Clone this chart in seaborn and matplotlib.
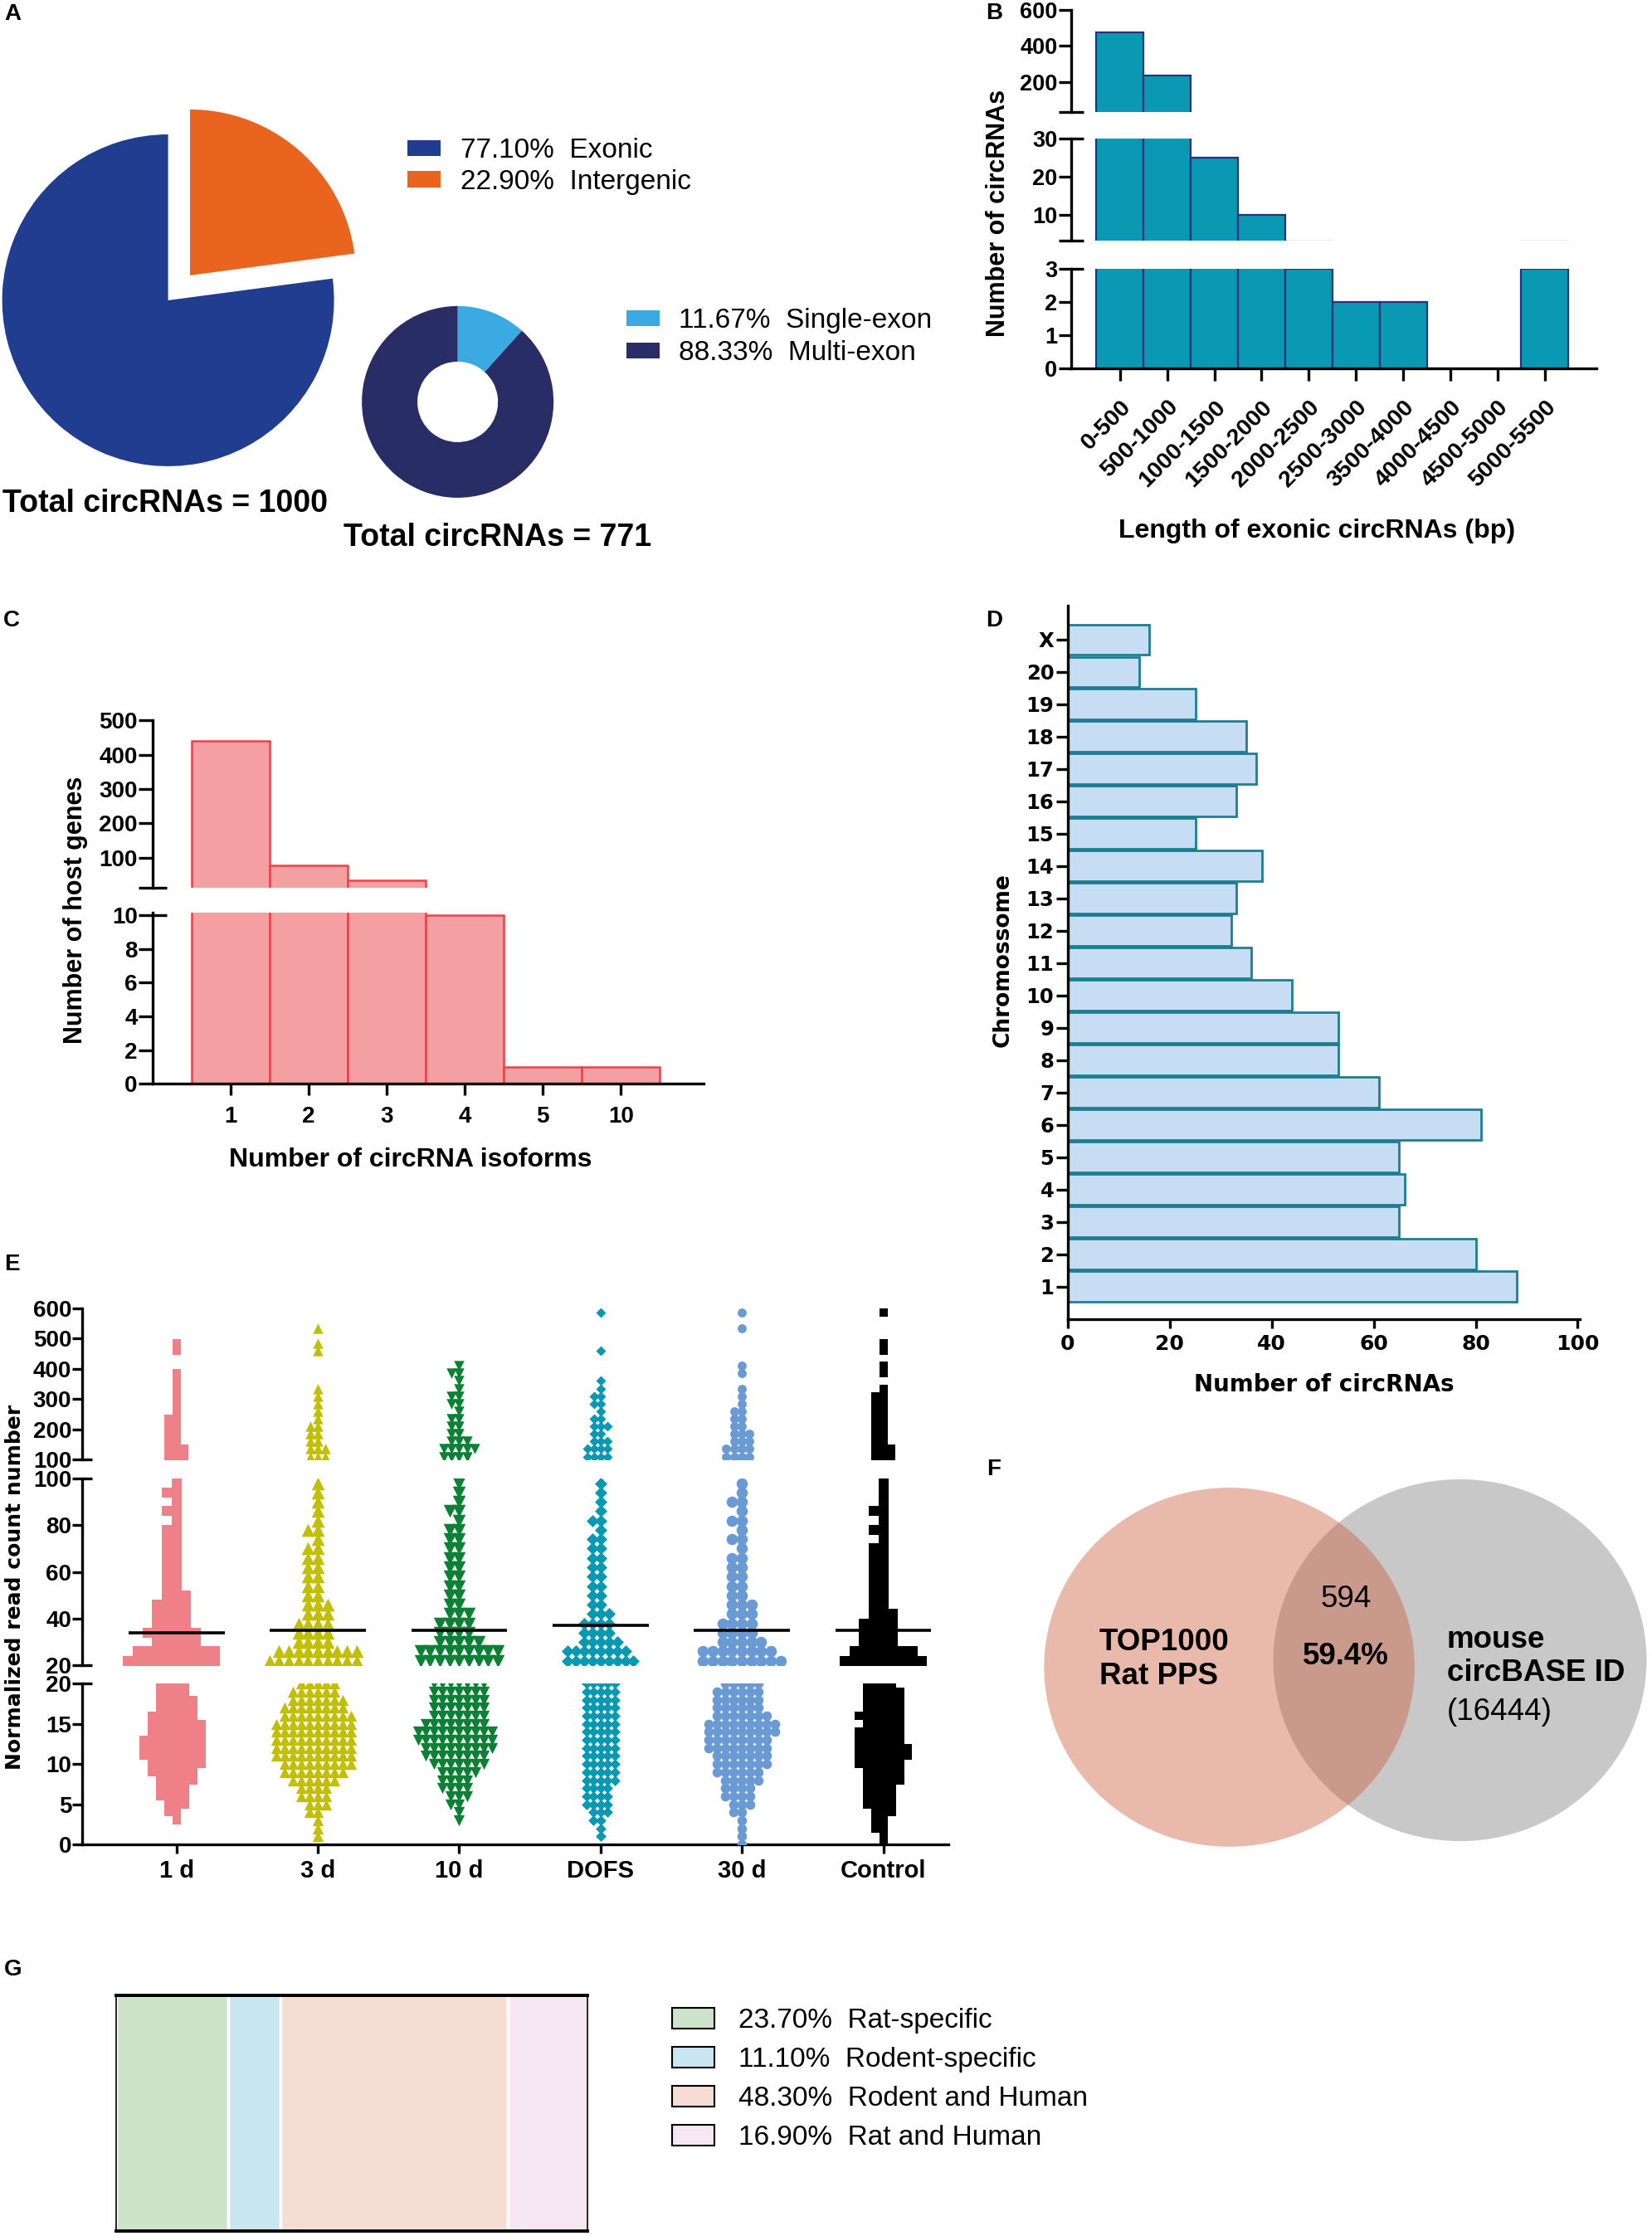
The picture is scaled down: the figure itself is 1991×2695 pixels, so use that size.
import numpy as np
import matplotlib
matplotlib.use('Agg')
import matplotlib.pyplot as plt
import matplotlib.patches as mpatches
import seaborn as sns

# ---------------- data ----------------
# A: genomic origin of the top circRNAs and exon composition
region_labels = ['Exonic', 'Intergenic']
region_pct = [77.10, 22.90]
exon_labels = ['Single-exon', 'Multi-exon']
exon_pct = [11.67, 88.33]
total_all = 1000
total_exonic = 771

# B: length of exonic circRNAs
length_bins = ['0-500', '500-1000', '1000-1500', '1500-2000', '2000-2500',
               '2500-3000', '3500-4000', '4000-4500', '4500-5000', '5000-5500']
length_counts = [476, 237, 25, 10, 3, 2, 2, 0, 0, 3]

# C: circRNA isoforms per host gene
isoform_bins = ['1', '2', '3', '4', '5', '10']
host_gene_counts = [440, 79, 34, 10, 1, 1]

# D: circRNAs per chromosome (top to bottom)
chromosomes = ['X', '20', '19', '18', '17', '16', '15', '14', '13', '12', '11',
               '10', '9', '8', '7', '6', '5', '4', '3', '2', '1']
chrom_counts = [16, 14, 25, 35, 37, 33, 25, 38, 33, 32, 36,
                44, 53, 53, 61, 81, 65, 66, 65, 80, 88]

# E: normalized read counts, given as value levels and the number of circRNAs at each level
groups = ['1 d', '3 d', '10 d', 'DOFS', '30 d', 'Control']
group_medians = [34, 35, 35, 37, 35, 35]
low_levels = list(range(0, 21))
mid_levels = list(range(22, 100, 4))
high_levels = list(range(110, 601, 25))

low_1d = [0, 0, 0, 1, 2, 3, 4, 4, 5, 6, 7, 8, 8, 8, 7, 7, 6, 5, 5, 4, 4]
mid_1d = [10, 9, 5, 6, 4, 4, 4, 3, 2, 2, 2, 2, 2, 2, 2, 1, 2, 1, 2, 1]
high_1d = [3, 3, 2, 2, 2, 2, 1, 1, 1, 1, 1, 1, 0, 0, 1, 1, 0, 0, 0, 0]

low_3d = [0, 1, 1, 1, 2, 3, 4, 4, 6, 8, 9, 10, 10, 10, 10, 10, 9, 8, 7, 6, 5]
mid_3d = [10, 9, 4, 4, 4, 3, 3, 2, 2, 2, 2, 2, 2, 1, 2, 1, 1, 1, 1, 1]
high_3d = [3, 3, 2, 2, 2, 1, 1, 1, 1, 1, 0, 0, 0, 0, 1, 1, 0, 1, 0, 0]

low_10d = [0, 0, 0, 1, 1, 2, 3, 4, 4, 5, 7, 8, 9, 10, 10, 8, 7, 7, 7, 7, 7]
mid_10d = [9, 9, 5, 4, 4, 3, 2, 2, 2, 2, 2, 2, 2, 2, 2, 1, 2, 1, 1, 1]
high_10d = [4, 5, 3, 2, 2, 2, 1, 2, 2, 1, 1, 2, 1, 0, 0, 0, 0, 0, 0, 0]

low_dofs = [0, 1, 1, 2, 3, 4, 4, 4, 5, 5, 5, 5, 5, 5, 5, 5, 5, 5, 5, 5, 5]
mid_dofs = [9, 8, 5, 4, 4, 3, 2, 2, 2, 2, 2, 2, 2, 2, 1, 2, 1, 1, 1, 1]
high_dofs = [4, 4, 3, 2, 3, 2, 1, 2, 2, 1, 1, 0, 0, 0, 1, 0, 0, 0, 0, 1]

low_30d = [1, 1, 1, 1, 2, 3, 4, 4, 5, 6, 7, 7, 8, 8, 9, 9, 7, 6, 6, 6, 5]
mid_30d = [9, 8, 5, 4, 4, 3, 3, 2, 2, 2, 2, 2, 1, 2, 1, 2, 1, 2, 1, 1]
high_30d = [4, 4, 3, 3, 2, 2, 2, 1, 1, 1, 0, 1, 1, 0, 0, 0, 0, 1, 0, 1]

low_ctrl = [1, 1, 2, 2, 3, 4, 4, 4, 5, 5, 6, 7, 7, 6, 6, 5, 6, 5, 5, 5, 4]
mid_ctrl = [9, 7, 4, 4, 4, 3, 2, 2, 2, 2, 2, 2, 2, 1, 2, 1, 2, 1, 1, 1]
high_ctrl = [3, 3, 2, 2, 2, 2, 2, 2, 2, 1, 0, 1, 1, 0, 1, 1, 0, 0, 0, 1]

# F: overlap with mouse circBASE
top_n = 1000
overlap_n = 594
mouse_total = 16444

# G: conservation classes
cons_labels = ['Rat-specific', 'Rodent-specific', 'Rodent and Human', 'Rat and Human']
cons_pct = [23.70, 11.10, 48.30, 16.90]

# ---------------- style ----------------
sns.set_theme(style='ticks')
plt.rcParams['font.family'] = ['Liberation Sans', 'DejaVu Sans']
plt.rcParams['font.weight'] = 'bold'
plt.rcParams['axes.edgecolor'] = 'black'
plt.rcParams['xtick.color'] = 'black'
plt.rcParams['ytick.color'] = 'black'
plt.rcParams['text.color'] = 'black'
plt.rcParams['axes.linewidth'] = 2.4

W, H = 1155, 1563.4   # layout grid (reference pixels / 1.724)
fig = plt.figure(figsize=(19.91, 26.95), dpi=100)


def add_ax(x0, y0, x1, y1):
    return fig.add_axes([x0 / W, 1 - y1 / H, (x1 - x0) / W, (y1 - y0) / H])


def put_text(x, y, s, **kw):
    kw.setdefault('va', 'center')
    fig.text(x / W, 1 - y / H, s, **kw)


def seg_axis(ax, major, minor, minor_lab, lsize, tlen, pad, bottom, xlen=10, xpad=4, xsize=None):
    sns.despine(ax=ax, bottom=not bottom)
    ax.set_yticks(major)
    ax.set_yticks(minor, labels=minor_lab, minor=True)
    ax.tick_params(axis='y', which='major', direction='out', length=tlen, width=2.4,
                   labelsize=lsize, pad=pad)
    ax.tick_params(axis='y', which='minor', direction='inout', length=2 * tlen, width=2.4,
                   labelsize=lsize, pad=pad)
    if bottom:
        ax.tick_params(axis='x', which='major', direction='out', length=xlen, width=2.4,
                       labelsize=xsize or lsize, pad=xpad)
    else:
        ax.tick_params(axis='x', which='both', bottom=False, labelbottom=False)
    ax.set_xlabel('')
    ax.set_ylabel('')


LEG_FONT = {'family': 'Liberation Sans', 'weight': 'normal', 'size': 24}

# ---------------- A ----------------
put_text(3, 10, 'A', fontsize=20, fontweight='bold')
axp = add_ax(0, 60, 260, 345)
wedges, _ = axp.pie(region_pct, colors=['#213D90', '#E9651F'], startangle=90,
                    explode=[0, 0.2], wedgeprops={'linewidth': 0})
axp.set_aspect('auto')
axp.set_xlim(-1.013, 1.228)
axp.set_ylim(-1.164, 1.293)
axp.legend(wedges, [f'{p:.2f}%  {n}' for p, n in zip(region_pct, region_labels)],
           loc='upper left', bbox_to_anchor=(285 / W, 1 - 96.5 / H), bbox_transform=fig.transFigure,
           frameon=False, prop=LEG_FONT, handlelength=1.2, handleheight=0.52,
           handletextpad=0.72, labelspacing=0.2, borderpad=0, borderaxespad=0)

axd2 = add_ax(245, 205, 395, 357)
rings, _ = axd2.pie(exon_pct, colors=['#3BAAE2', '#282D66'], startangle=90, counterclock=False,
                    wedgeprops={'width': 0.58, 'linewidth': 0})
axd2.set_aspect('auto')
axd2.set_xlim(-1.119, 1.119)
axd2.set_ylim(-1.134, 1.134)
axd2.legend(rings, [f'{p:.2f}%  {n}' for p, n in zip(exon_pct, exon_labels)],
            loc='upper left', bbox_to_anchor=(438 / W, 1 - 215.5 / H), bbox_transform=fig.transFigure,
            frameon=False, prop=LEG_FONT, handlelength=1.2, handleheight=0.52,
            handletextpad=0.68, labelspacing=0.24, borderpad=0, borderaxespad=0)

put_text(2, 352, f'Total circRNAs = {total_all}', fontsize=27, fontweight='bold')
put_text(240, 376, f'Total circRNAs = {total_exonic}', fontsize=27, fontweight='bold')

# ---------------- B ----------------
put_text(689, 9.5, 'B', fontsize=20, fontweight='bold')
b_segments = [(30, 600, 7, 78.6), (3.25, 30, 97, 168), (0, 3, 187.7, 257.7)]
b_major = [[200, 400, 600], [10, 20], [0, 1, 2]]
b_minor = [([30], ['']), ([3.25, 30], ['', '30']), ([3], ['3'])]
for i, (lo, hi, top, bot) in enumerate(b_segments):
    ax = add_ax(749, top, 1116, bot)
    sns.barplot(x=length_bins, y=length_counts, ax=ax, color='#0A99B3', edgecolor='#2E2F7A',
                linewidth=1.6, width=1.0, saturation=1)
    ax.set_xlim(-1.03, 10.09)
    ax.set_ylim(lo, hi)
    last = i == len(b_segments) - 1
    seg_axis(ax, b_major[i], b_minor[i][0], b_minor[i][1], 19.5, 11, 1, last,
             xlen=11, xpad=13, xsize=20.5)
    if last:
        for t in ax.get_xticklabels():
            t.set_rotation(45)
            t.set_ha('right')
            t.set_va('top')
            t.set_rotation_mode('anchor')
put_text(698, 149, 'Number of circRNAs', fontsize=22, fontweight='bold', rotation=90, ha='center')
put_text(920.6, 371, 'Length of exonic circRNAs (bp)', fontsize=23, fontweight='bold', ha='center')

# ---------------- C ----------------
put_text(2, 434, 'C', fontsize=20, fontweight='bold')
c_segments = [(12, 500, 503.7, 620.9), (0, 10.15, 638.2, 757.8)]
c_major = [[100, 200, 300, 400, 500], [0, 2, 4, 6, 8]]
c_minor = [([12], ['']), ([10], ['10'])]
for i, (lo, hi, top, bot) in enumerate(c_segments):
    ax = add_ax(106.7, top, 492, bot)
    sns.barplot(x=isoform_bins, y=host_gene_counts, ax=ax, color='#F4A0A2', edgecolor='#E8434A',
                linewidth=1.8, width=1.0, saturation=1)
    ax.set_xlim(-0.995, 6.06)
    ax.set_ylim(lo, hi)
    seg_axis(ax, c_major[i], c_minor[i][0], c_minor[i][1], 20, 12, 1, i == 1, xlen=10, xpad=9)
put_text(53, 636, 'Number of host genes', fontsize=22, fontweight='bold', rotation=90, ha='center')
put_text(287, 811, 'Number of circRNA isoforms', fontsize=23, fontweight='bold', ha='center')

# ---------------- D ----------------
put_text(689, 434, 'D', fontsize=20, fontweight='bold')
axc = add_ax(746.6, 423.3, 1104.5, 922.6)
sns.barplot(x=chrom_counts, y=chromosomes, orient='h', ax=axc, color='#C6DDF3',
            edgecolor='#1D7E91', linewidth=2.0, width=0.93, saturation=1)
axc.set_xlim(0, 100.4)
axc.set_ylim(21.02, -1.05)
sns.despine(ax=axc)
xt = [0, 20, 40, 60, 80, 100]
axc.set_xticks(xt, labels=[str(v) for v in xt], fontfamily='DejaVu Sans', fontsize=18, fontweight='bold')
axc.set_yticks(range(len(chromosomes)), labels=chromosomes, fontfamily='DejaVu Sans',
               fontsize=17.5, fontweight='bold')
axc.tick_params(axis='y', length=10, width=2.4, pad=2)
axc.tick_params(axis='x', length=8, width=2.4, pad=5)
axc.set_xlabel('')
axc.set_ylabel('')
put_text(701, 671, 'Chromossome', fontsize=19, fontweight='bold', rotation=90, ha='center',
         family='DejaVu Sans')
put_text(926, 968, 'Number of circRNAs', fontsize=20, fontweight='bold', ha='center',
         family='DejaVu Sans')

# ---------------- E ----------------
put_text(3, 884, 'E', fontsize=20, fontweight='bold')
e_low = dict(zip(groups, [low_1d, low_3d, low_10d, low_dofs, low_30d, low_ctrl]))
e_mid = dict(zip(groups, [mid_1d, mid_3d, mid_10d, mid_dofs, mid_30d, mid_ctrl]))
e_high = dict(zip(groups, [high_1d, high_3d, high_10d, high_dofs, high_30d, high_ctrl]))
e_values = {g: np.concatenate([np.repeat(low_levels, e_low[g]),
                               np.repeat(mid_levels, e_mid[g]),
                               np.repeat(high_levels, e_high[g])]) for g in groups}
e_colors = ['#F08088', '#C2BE00', '#0C8135', '#0899B2', '#6A9AD3', '#000000']
e_markers = ['s', '^', 'v', 'D', 'o', 's']
e_shrink = [1.0, 1.0, 1.0, 0.85, 1.0, 1.0]    # swarm spacing per symbol
e_grow = [1.1, 1.4, 1.4, 1.12, 1.22, 1.1]     # drawn size after the swarm is laid out

# segment: (ylim low, ylim high, top px, bottom px, marker size)
e_segments = [(100, 600, 914.8, 1020.5, 6.4), (20, 100, 1033.7, 1164.5, 8.0),
              (0, 20, 1177.2, 1289.6, 6.85)]
e_major = [[200, 300, 400, 500, 600], [40, 60, 80], [0, 5, 10, 15]]
e_minor = [([100], ['100']), ([20, 100], ['20', '100']), ([20], ['20'])]
swarm_points = []
for i, (lo, hi, top, bot, msize) in enumerate(e_segments):
    ax = add_ax(57.4, top, 663, bot)
    for g, c, m, k, grow in zip(groups, e_colors, e_markers, e_shrink, e_grow):
        v = e_values[g]
        if i == 0:
            sub = v[v >= 100]
        elif i == 1:
            sub = v[(v > 20) & (v < 100)]
        else:
            sub = v[v <= 20]
        if len(sub) == 0:
            continue
        n0 = len(ax.collections)
        sns.swarmplot(x=[g] * len(sub), y=sub, order=groups, ax=ax, color=c, marker=m,
                      size=msize * k, linewidth=0, warn_thresh=1)
        swarm_points += [(coll, grow) for coll in ax.collections[n0:]]
    if i == 1:
        pos = np.arange(len(groups))
        ax.hlines(group_medians, pos - 0.34, pos + 0.34, color='black', linewidth=2.6, zorder=5)
    ax.set_xlim(-0.668, 5.46)
    ax.set_ylim(lo, hi)
    seg_axis(ax, e_major[i], e_minor[i][0], e_minor[i][1], 20, 8.7, 0.5, i == 2,
             xlen=8, xpad=5, xsize=21)
put_text(10.6, 1109.6, 'Normalized read count number', fontsize=18, fontweight='bold',
         rotation=90, ha='center', family='DejaVu Sans')

# ---------------- F ----------------
put_text(690, 1027.5, 'F', fontsize=20, fontweight='bold')
axf = add_ax(684.5, 1009.4, 1155, 1322.6)
axf.set_xlim(684.5, 1155)
axf.set_ylim(1322.6, 1009.4)
axf.axis('off')
axf.add_patch(mpatches.Ellipse((1020.7, 1160.8), 261, 253, facecolor='#C8C8C8', edgecolor='none'))
axf.add_patch(mpatches.Ellipse((859.5, 1165.7), 259, 251, facecolor='#CB5B39', alpha=0.42,
                               edgecolor='none'))
axf.text(941, 1118.3, str(overlap_n), ha='center', va='center', fontsize=26.5, fontweight='normal')
axf.text(941, 1158.2, f'{overlap_n / top_n * 100:.1f}%', ha='center', va='center',
         fontsize=26.5, fontweight='bold')
axf.text(768.5, 1160.2, f'TOP{top_n}\nRat PPS', ha='left', va='center', fontsize=26.5,
         fontweight='bold', linespacing=1.2)
axf.text(1011.5, 1158.2, 'mouse\ncircBASE ID', ha='left', va='center', fontsize=26.5,
         fontweight='bold', linespacing=1.2)
axf.text(1011.5, 1197.2, f'({mouse_total})', ha='left', va='center', fontsize=26.5,
         fontweight='normal')

# ---------------- G ----------------
put_text(3, 1377, 'G', fontsize=20, fontweight='bold')
cons_colors = ['#CDE4C8', '#C9E6F1', '#F5DDD3', '#F6E7F3']
axg = add_ax(81.3, 1395, 410.7, 1560)
lefts = np.concatenate([[0], np.cumsum(cons_pct)[:-1]])
axg.barh(0, cons_pct, left=lefts, height=1.0, color=cons_colors, edgecolor='white', linewidth=2.5)
axg.set_xlim(0, 100)
axg.set_ylim(-0.5, 0.5)
axg.set_xticks([])
axg.set_yticks([])
for side in ['top', 'bottom']:
    axg.spines[side].set_linewidth(2.8)
for side in ['left', 'right']:
    axg.spines[side].set_linewidth(1.2)
handles = [mpatches.Patch(facecolor=c, edgecolor='black', linewidth=1.5) for c in cons_colors]
axg.legend(handles, [f'{p:.2f}%  {n}' for p, n in zip(cons_pct, cons_labels)],
           loc='upper left', bbox_to_anchor=(469.7 / W, 1 - 1404 / H), bbox_transform=fig.transFigure,
           frameon=False, prop=LEG_FONT, handlelength=1.55, handleheight=0.76,
           handletextpad=0.86, labelspacing=0.48, borderpad=0, borderaxespad=0)

# lay the swarms out once, then draw the symbols a bit larger so the clouds read as solid shapes
fig.canvas.draw()
for coll, grow in swarm_points:
    if 'draw' in coll.__dict__:
        del coll.draw
    coll.set_sizes(coll.get_sizes() * grow ** 2)

fig.savefig('out.png', dpi=100)
